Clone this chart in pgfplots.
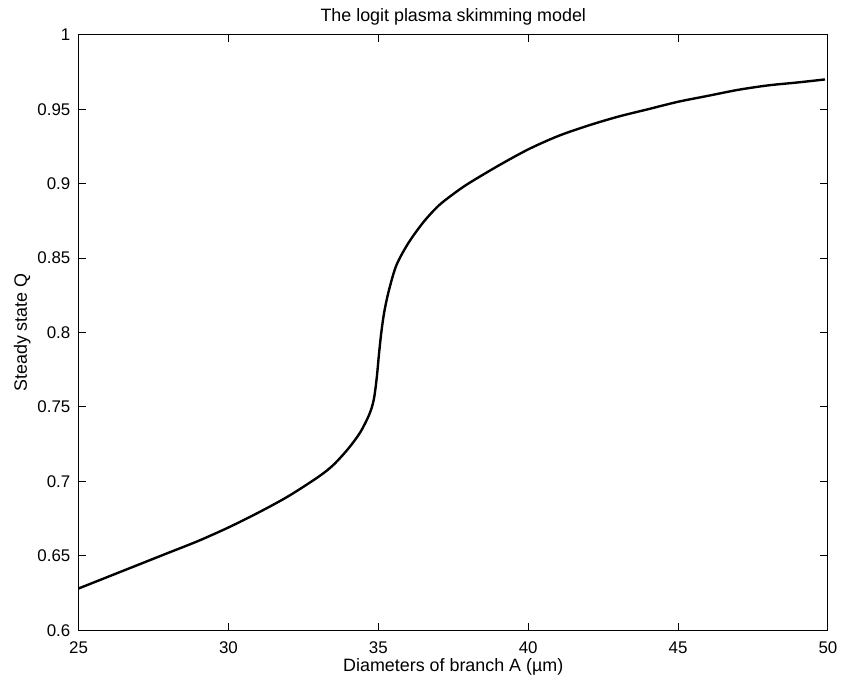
\documentclass[border=0pt]{standalone}
\usepackage{fontspec}
\setmainfont{Liberation Sans}
\usepackage{pgfplots}
\pgfplotsset{compat=1.18}

\begin{document}
\begin{tikzpicture}
\begin{axis}[
  scale only axis,
  width=377pt, height=299.5pt,
  xmin=25, xmax=50,
  ymin=0.6, ymax=1,
  xtick={25,30,35,40,45,50},
  ytick={0.6,0.65,0.7,0.75,0.8,0.85,0.9,0.95,1},
  yticklabels={0.6,0.65,0.7,0.75,0.8,0.85,0.9,0.95,1},
  tick align=inside,
  major tick length=3.8pt,
  axis line style={line width=0.5pt},
  tick style={line width=0.5pt, black},
  /pgf/number format/assume math mode=true,
  tick label style={font=\fontsize{8.5}{9}\selectfont},
  xticklabel style={yshift=-2.2pt},
  yticklabel style={xshift=-0.6pt},
  title={The logit plasma skimming model},
  xlabel={Diameters of branch A (\textmu m)},
  ylabel={Steady state Q},
  every axis title/.style={at={(rel axis cs:0.5,1)}, anchor=base, yshift=6.5pt,
    font=\fontsize{9}{10}\selectfont},
  every axis x label/.style={at={(rel axis cs:0.5,0)}, anchor=base, yshift=-21pt,
    font=\fontsize{9}{10}\selectfont},
  every axis y label/.style={at={(rel axis cs:0,0.5)}, xshift=-26pt, anchor=base, rotate=90,
    font=\fontsize{9}{10}\selectfont},
]
\addplot[black, line width=1.2pt, smooth] coordinates {
  (25,0.628) (26,0.636) (27,0.644) (27.5,0.648) (28,0.652) (29,0.660)
  (30,0.669) (31,0.679) (32,0.690) (33,0.703) (33.5,0.711) (34,0.722)
  (34.4,0.733) (34.7,0.745) (34.85,0.755) (34.95,0.770) (35.02,0.785)
  (35.1,0.800) (35.2,0.814) (35.35,0.828) (35.6,0.845) (36,0.860)
  (36.5,0.874) (37,0.885) (37.5,0.893) (38,0.900) (39,0.912) (40,0.923)
  (41,0.932) (42,0.939) (43,0.945) (44,0.950) (45,0.955) (46,0.959)
  (47,0.963) (48,0.966) (49,0.968) (49.9,0.970)
};
\end{axis}
\path ([xshift=-39.5pt,yshift=-24pt]current axis.south west)
  rectangle ([xshift=5.5pt,yshift=17.5pt]current axis.north east);
\end{tikzpicture}
\end{document}
